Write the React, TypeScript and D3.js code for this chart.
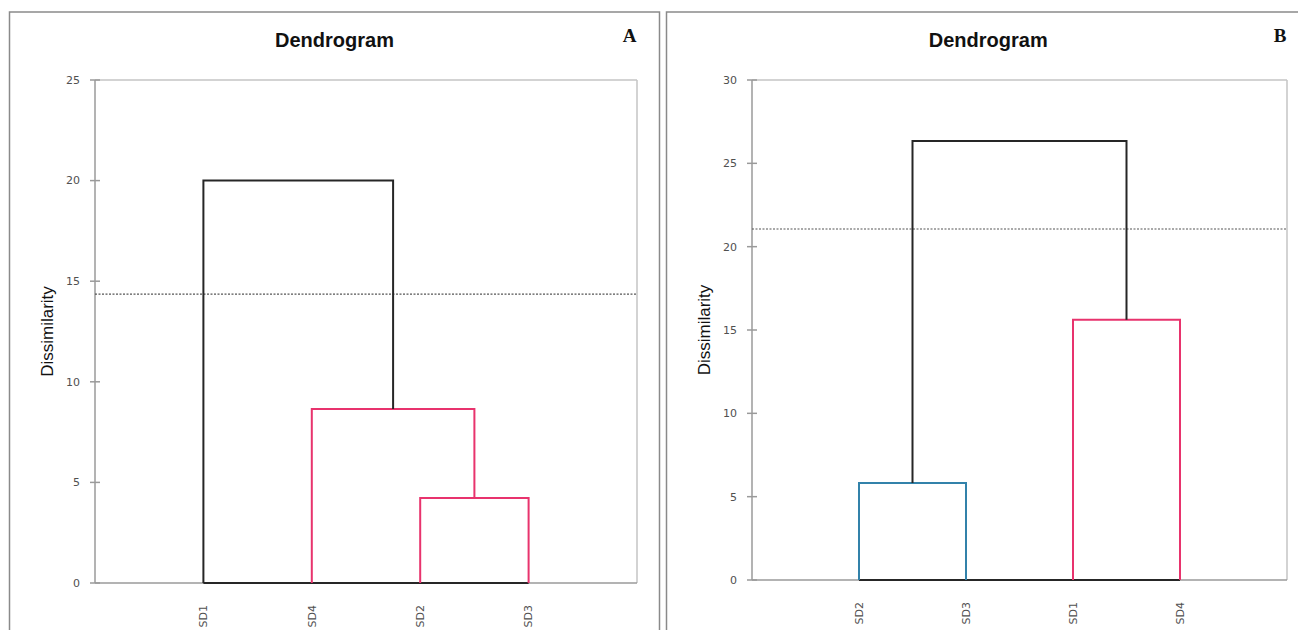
import React from "react";
import * as d3 from "d3";

// panel A
const leavesA = ["SD1", "SD4", "SD2", "SD3"];
// merge children: index < leaves.length is a leaf, otherwise an earlier merge
const mergeLeftA = [2, 1, 0];
const mergeRightA = [3, 4, 5];
const mergeHeightA = [4.22, 8.65, 20.0];
const mergeGroupA = ["pink", "pink", "root"];
const cutA = 14.36;
const ticksA = [0, 5, 10, 15, 20, 25];

// panel B
const leavesB = ["SD2", "SD3", "SD1", "SD4"];
const mergeLeftB = [0, 2, 4];
const mergeRightB = [1, 3, 5];
const mergeHeightB = [5.82, 15.62, 26.34];
const mergeGroupB = ["blue", "pink", "root"];
const cutB = 21.06;
const ticksB = [0, 5, 10, 15, 20, 25, 30];

const groupColor: Record<string, string> = {
  pink: "#e8336d",
  blue: "#3282aa",
  root: "#262626",
};

type PanelProps = {
  leaves: string[];
  mergeLeft: number[];
  mergeRight: number[];
  mergeHeight: number[];
  mergeGroup: string[];
  cut: number;
  ticks: number[];
  letter: string;
  frame: { l: number; r: number; t: number };
  plot: { l: number; r: number; t: number; b: number };
};

function Panel(p: PanelProps) {
  const x = d3.scalePoint<string>().domain(p.leaves).range([p.plot.l, p.plot.r]).padding(1);
  const y = d3
    .scaleLinear()
    .domain([0, d3.max(p.ticks) as number])
    .range([p.plot.b, p.plot.t]);

  const nodes: { x: number; h: number }[] = p.leaves.map((d) => ({ x: x(d) as number, h: 0 }));
  const links: { d: string; color: string }[] = [];
  p.mergeHeight.forEach((h, i) => {
    const a = nodes[p.mergeLeft[i]];
    const b = nodes[p.mergeRight[i]];
    const path = d3.path();
    path.moveTo(a.x, y(a.h));
    path.lineTo(a.x, y(h));
    path.lineTo(b.x, y(h));
    path.lineTo(b.x, y(b.h));
    links.push({ d: path.toString(), color: groupColor[p.mergeGroup[i]] });
    nodes.push({ x: (a.x + b.x) / 2, h });
  });

  const first = x(p.leaves[0]) as number;
  const last = x(p.leaves[p.leaves.length - 1]) as number;
  const cx = (p.frame.l + p.frame.r) / 2;
  const cy = (p.plot.t + p.plot.b) / 2;

  return (
    <g>
      <rect
        x={p.frame.l}
        y={p.frame.t}
        width={p.frame.r - p.frame.l}
        height={700}
        fill="white"
        stroke="#8a8a8a"
        strokeWidth={1.5}
      />
      <text
        x={cx}
        y={47}
        textAnchor="middle"
        fontFamily="'Liberation Sans Narrow', 'Liberation Sans', Arial, sans-serif"
        fontWeight="bold"
        fontSize={20}
        fill="#111"
      >
        Dendrogram
      </text>
      <text
        x={p.frame.r - 30}
        y={42}
        textAnchor="middle"
        fontFamily="'Liberation Serif', 'Times New Roman', serif"
        fontWeight="bold"
        fontSize={19}
        fill="#111"
      >
        {p.letter}
      </text>

      {/* plot frame */}
      <line x1={p.plot.l} x2={p.plot.r} y1={p.plot.t} y2={p.plot.t} stroke="#c4c4c4" strokeWidth={1.5} />
      <line x1={p.plot.r} x2={p.plot.r} y1={p.plot.t} y2={p.plot.b} stroke="#c4c4c4" strokeWidth={1.5} />
      <line x1={p.plot.l} x2={p.plot.r} y1={p.plot.b} y2={p.plot.b} stroke="#9a9a9a" strokeWidth={1.5} />
      <line x1={p.plot.l} x2={p.plot.l} y1={p.plot.t} y2={p.plot.b} stroke="#9a9a9a" strokeWidth={1.5} />

      {p.ticks.map((t) => (
        <g key={t}>
          <line x1={p.plot.l - 5} x2={p.plot.l + 5} y1={y(t)} y2={y(t)} stroke="#9a9a9a" strokeWidth={1.5} />
          <text
            x={p.plot.l - 15}
            y={y(t)}
            dy="0.35em"
            textAnchor="end"
            fontFamily="'DejaVu Sans', Tahoma, sans-serif"
            fontSize={11}
            fill="#505050"
          >
            {t}
          </text>
        </g>
      ))}

      <text
        transform={`translate(${p.plot.l - 42},${cy}) rotate(-90)`}
        textAnchor="middle"
        fontFamily="'Liberation Sans', Arial, sans-serif"
        fontSize={17}
        fill="#111"
      >
        Dissimilarity
      </text>

      {p.leaves.map((d) => (
        <text
          key={d}
          transform={`translate(${x(d)},${p.plot.b + 22}) rotate(-90)`}
          textAnchor="end"
          dy="0.35em"
          fontFamily="'DejaVu Sans', Tahoma, sans-serif"
          fontSize={11}
          fill="#505050"
        >
          {d}
        </text>
      ))}

      <line
        x1={p.plot.l}
        x2={p.plot.r}
        y1={y(p.cut)}
        y2={y(p.cut)}
        stroke="#555"
        strokeWidth={1.2}
        strokeDasharray="2,1.5"
      />

      <line x1={first} x2={last} y1={y(0)} y2={y(0)} stroke="#262626" strokeWidth={2} />
      {links.map((l, i) => (
        <path key={i} d={l.d} fill="none" stroke={l.color} strokeWidth={2} />
      ))}
    </g>
  );
}

export default function App() {
  return (
    <div style={{ position: "absolute", left: 0, top: 0 }}>
      <svg width={1298} height={630} style={{ display: "block" }}>
        <rect width={1298} height={630} fill="white" />
        <Panel
          leaves={leavesA}
          mergeLeft={mergeLeftA}
          mergeRight={mergeRightA}
          mergeHeight={mergeHeightA}
          mergeGroup={mergeGroupA}
          cut={cutA}
          ticks={ticksA}
          letter="A"
          frame={{ l: 9.5, r: 659.5, t: 12 }}
          plot={{ l: 95, r: 637, t: 80, b: 583 }}
        />
        <Panel
          leaves={leavesB}
          mergeLeft={mergeLeftB}
          mergeRight={mergeRightB}
          mergeHeight={mergeHeightB}
          mergeGroup={mergeGroupB}
          cut={cutB}
          ticks={ticksB}
          letter="B"
          frame={{ l: 666.5, r: 1310, t: 12 }}
          plot={{ l: 752, r: 1287, t: 80, b: 580 }}
        />
      </svg>
    </div>
  );
}
